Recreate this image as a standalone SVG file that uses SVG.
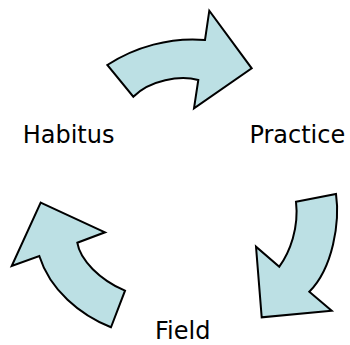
<svg xmlns="http://www.w3.org/2000/svg" width="350" height="345" viewBox="0 0 350 345">
  <style>
    .cycle-arrow { fill: #bce0e4; stroke: #000; stroke-width: 2; stroke-linejoin: miter; }
    .label { font-family: "DejaVu Sans", Verdana, sans-serif; font-size: 24px; fill: #000; }
  </style>
  <rect width="350" height="345" fill="#fff"/>
  <g id="connectors">
    <!-- Habitus to Practice -->
    <path id="arrow-habitus-practice" class="cycle-arrow" d="M107.3,65 C135,47 170,37 205,40 L209.3,10.7 L251.7,68.3 L194,108.3 L198.3,80 C180,75 150,80 133.3,96.7 Z"/>
    <!-- Practice to Field -->
    <path id="arrow-practice-field" class="cycle-arrow" d="M296,201.7 L336,194 C340,222 333,268 309.3,291.7 L331.7,310.7 L261.7,317.3 L256,246.7 L279.3,266.7 C290,252 299,228 296,201.7 Z"/>
    <!-- Field to Habitus -->
    <path id="arrow-field-habitus" class="cycle-arrow" d="M40.7,202.7 L105,232.3 L77.3,242.7 C80,260 100,280 125,290.7 L111,327.3 C80,315 50,290 39.3,256 L11.7,266 Z"/>
  </g>
  <g id="node-habitus">
    <text class="label" x="22.7" y="143.3">Habitus</text>
  </g>
  <g id="node-practice">
    <text class="label" x="249.4" y="143.3">Practice</text>
  </g>
  <g id="node-field">
    <text class="label" x="155" y="339.3">Field</text>
  </g>
</svg>
